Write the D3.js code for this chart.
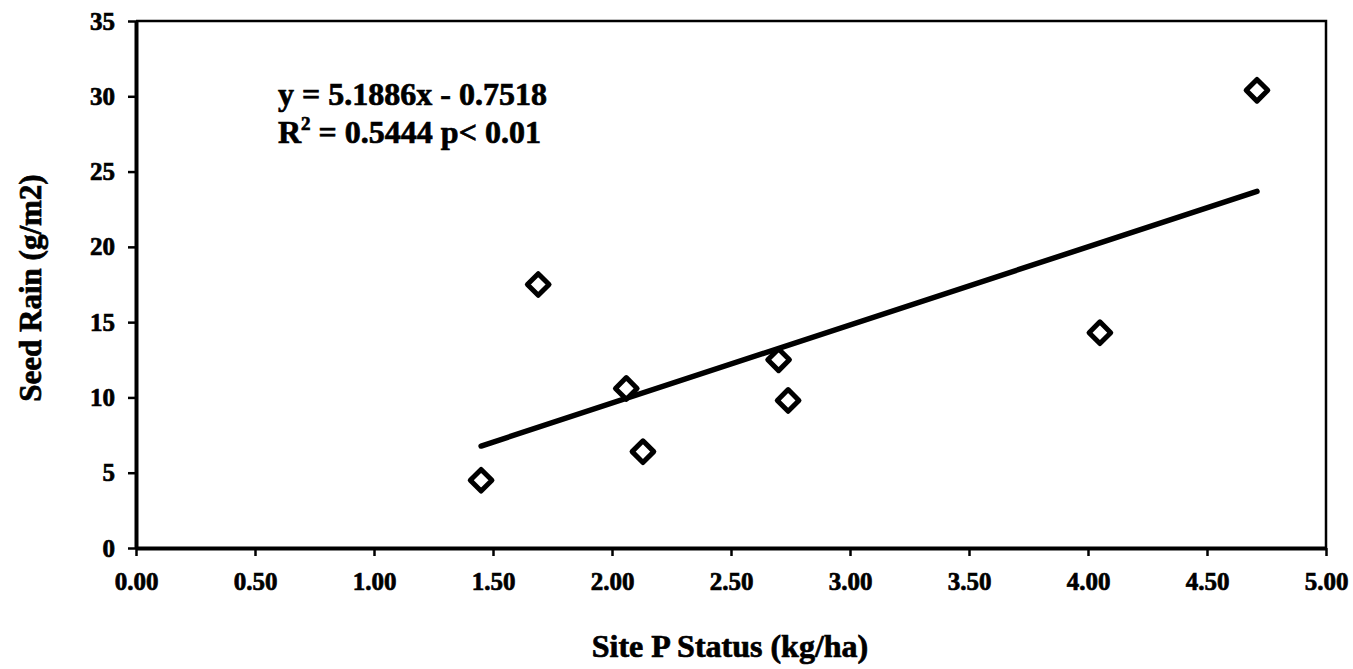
<!DOCTYPE html>
<html>
<head>
<meta charset="utf-8">
<script src="https://cdn.jsdelivr.net/npm/d3@7"></script>
<style>
  html, body { margin: 0; padding: 0; background: #fff; }
  svg { display: block; }
  text { font-family: "Liberation Serif", "Times New Roman", serif; font-weight: bold; fill: #000; stroke: #000; stroke-width: 0.7px; }
</style>
</head>
<body>
<svg id="chart" width="1353" height="669"></svg>
<script>
// Site phosphorus status (kg/ha) vs. seed rain (g/m2)
const siteP    = [1.45, 1.69, 2.06, 2.13, 2.70, 2.74, 4.05, 4.71];
const seedRain = [4.5, 17.5, 10.6, 6.4, 12.5, 9.8, 14.3, 30.4];

// Linear fit reported on the chart
const slope = 5.1886;
const intercept = -0.7518;
const fitLabel = "y = 5.1886x - 0.7518";

const xTicks = [0, 0.5, 1, 1.5, 2, 2.5, 3, 3.5, 4, 4.5, 5];
const yTicks = [0, 5, 10, 15, 20, 25, 30, 35];

const svg = d3.select("#chart");
const x = d3.scaleLinear().domain([0, 5]).range([136, 1326]);
const y = d3.scaleLinear().domain([0, 35]).range([548, 21]);

// frame: top and right edges
svg.append("path")
  .attr("d", `M${x(0)},${y(35)}H${x(5)}V${y(0)}`)
  .attr("fill", "none").attr("stroke", "#000").attr("stroke-width", 2.5);

// x axis
const xAxis = svg.append("g").attr("transform", `translate(0,${y(0)})`)
  .call(d3.axisBottom(x).tickValues(xTicks).tickFormat(d3.format(".2f")).tickSize(8).tickSizeOuter(0).tickPadding(16));
// y axis
const yAxis = svg.append("g").attr("transform", `translate(${x(0)},0)`)
  .call(d3.axisLeft(y).tickValues(yTicks).tickFormat(d3.format("d")).tickSize(8).tickSizeOuter(0).tickPadding(13));

[xAxis, yAxis].forEach(g => {
  g.select(".domain").attr("stroke", "#000").attr("stroke-width", 4);
  g.selectAll(".tick line").attr("stroke", "#000").attr("stroke-width", 2.5);
  g.selectAll(".tick text").attr("font-size", 25);
});

// regression line over the observed range
const xr = d3.extent(siteP);
svg.append("line")
  .attr("x1", x(xr[0])).attr("y1", y(slope * xr[0] + intercept))
  .attr("x2", x(xr[1])).attr("y2", y(slope * xr[1] + intercept))
  .attr("stroke", "#000").attr("stroke-width", 5.5).attr("stroke-linecap", "round");

// diamond markers
const diamond = d3.symbol().type(d3.symbolDiamond2).size(300);
svg.append("g").selectAll("path")
  .data(siteP.map((p, i) => [p, seedRain[i]]))
  .join("path")
  .attr("d", diamond)
  .attr("transform", d => `translate(${x(d[0])},${y(d[1])})`)
  .attr("fill", "#fff").attr("stroke", "#000").attr("stroke-width", 5)
  .attr("stroke-linejoin", "round");

// equation and fit statistics
svg.append("text").attr("x", 278).attr("y", 105).attr("font-size", 32).text(fitLabel);
const r2 = svg.append("text").attr("x", 278).attr("y", 143).attr("font-size", 32);
r2.append("tspan").text("R");
r2.append("tspan").attr("font-size", 19).attr("dy", -13).text("2");
r2.append("tspan").attr("dy", 13).text(" = 0.5444 p< 0.01");

// axis titles
svg.append("text").attr("x", 730).attr("y", 657).attr("text-anchor", "middle")
  .attr("font-size", 32).text("Site P Status (kg/ha)");
svg.append("text").attr("transform", "translate(41,288) rotate(-90)").attr("text-anchor", "middle")
  .attr("font-size", 31).text("Seed Rain (g/m2)");
</script>
</body>
</html>
